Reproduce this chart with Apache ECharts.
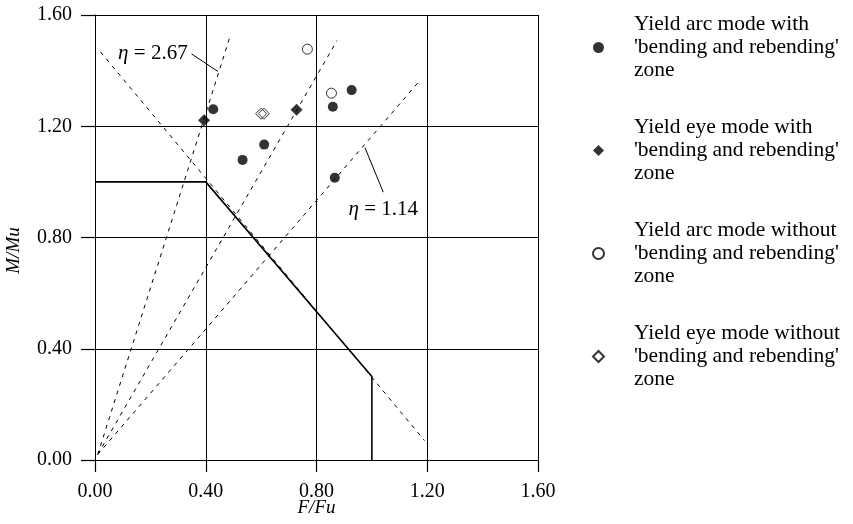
<!DOCTYPE html>
<html>
<head>
<meta charset="utf-8">
<script src="https://cdn.jsdelivr.net/npm/echarts@6/dist/echarts.min.js"></script>
<style>
  html, body { margin: 0; padding: 0; background: #fff; }
  #main { width: 853px; height: 524px; }
</style>
</head>
<body>
<div id="main"></div>
<script>
  // F/Fu , M/Mu
  var arcWith = [[0.427, 1.261], [0.611, 1.134], [0.533, 1.079], [0.927, 1.330], [0.859, 1.270], [0.866, 1.015]];
  var eyeWith = [[0.394, 1.222], [0.728, 1.259]];
  var arcWithout = [[0.767, 1.477], [0.854, 1.319]];
  var eyeWithout = [[0.600, 1.245], [0.610, 1.245]];

  var boundary = [[0, 1.0], [0.4, 1.0], [1.0, 0.3], [1.0, 0]];
  var boundaryExt = [[0.02, 1.467], [1.19, 0.07]];
  var eta267 = [[0.01, 0.02], [0.49, 1.53]];
  var etaMid = [[0.01, 0.02], [0.874, 1.508]];
  var eta114 = [[0.01, 0.02], [1.166, 1.356]];
  var leader267 = [[0.349, 1.46], [0.444, 1.397]];
  var leader114 = [[0.975, 1.123], [1.041, 0.963]];

  var legendNames = {
    'arcWith': ['Yield arc mode with', "'bending and rebending'", 'zone'],
    'eyeWith': ['Yield eye mode with', "'bending and rebending'", 'zone'],
    'arcWithout': ['Yield arc mode without', "'bending and rebending'", 'zone'],
    'eyeWithout': ['Yield eye mode without', "'bending and rebending'", 'zone']
  };

  var serif = 'Liberation Serif';
  var myChart = echarts.init(document.getElementById('main'));

  function dashed(data) {
    return {
      type: 'line', data: data, symbol: 'none', silent: true,
      lineStyle: { color: '#000', width: 1, type: [4, 5] }
    };
  }

  function etaLabel(text, pos, dist) {
    return {
      show: true, position: pos, distance: dist,
      formatter: '{i|η} = ' + text,
      fontFamily: serif, fontSize: 21, color: '#000',
      rich: { i: { fontFamily: serif, fontStyle: 'italic', fontSize: 21, color: '#000' } }
    };
  }

  var tickStyle = { color: '#000', width: 1.2 };

  var option = {
    backgroundColor: '#fff',
    animation: false,
    textStyle: { fontFamily: serif, color: '#000' },
    grid: { left: 95, right: 315, top: 15, bottom: 64, containLabel: false, outerBoundsMode: 'none' },
    legend: {
      orient: 'vertical',
      left: 587,
      top: 8,
      itemGap: 34,
      itemWidth: 11,
      itemHeight: 11,
      data: ['arcWith', 'eyeWith', 'arcWithout', 'eyeWithout'],
      formatter: function (name) { return legendNames[name].join('\n'); },
      textStyle: {
        fontFamily: serif, fontSize: 21.5, color: '#000', lineHeight: 23,
        padding: [0, 0, 0, 25]
      }
    },
    xAxis: {
      type: 'value', min: 0, max: 1.6, interval: 0.4,
      position: 'bottom',
      name: 'F/Fu', nameLocation: 'middle', nameGap: 38, nameMoveOverlap: false,
      nameTextStyle: { fontFamily: serif, fontStyle: 'italic', fontSize: 19, color: '#000' },
      axisLine: { show: true, onZero: false, lineStyle: { color: '#000', width: 1 } },
      axisTick: { show: true, inside: false, length: 12, interval: 0, lineStyle: tickStyle },
      axisLabel: { fontFamily: serif, fontSize: 20, color: '#000', margin: 22,
        formatter: function (v) { return v.toFixed(2); } },
      splitLine: { show: true, lineStyle: { color: '#000', width: 1 } }
    },
    yAxis: {
      type: 'value', min: 0, max: 1.6, interval: 0.4,
      position: 'left',
      name: 'M/Mu', nameLocation: 'middle', nameGap: 72, nameRotate: 90, nameMoveOverlap: false,
      nameTextStyle: { fontFamily: serif, fontStyle: 'italic', fontSize: 19, color: '#000',
        padding: [0, 26, 0, 0] },
      axisLine: { show: true, onZero: false, lineStyle: { color: '#000', width: 1 } },
      axisTick: { show: true, inside: false, length: 14, interval: 0, lineStyle: tickStyle },
      axisLabel: { fontFamily: serif, fontSize: 20, color: '#000', margin: 23,
        formatter: function (v) { return v.toFixed(2); } },
      splitLine: { show: true, lineStyle: { color: '#000', width: 1 } }
    },
    series: [
      dashed(boundaryExt),
      dashed(eta267),
      dashed(etaMid),
      dashed(eta114),
      {
        type: 'line', data: boundary, symbol: 'none', silent: true,
        lineStyle: { color: '#000', width: 1.6 }
      },
      {
        type: 'line', data: leader267, silent: true, symbol: 'none',
        lineStyle: { color: '#000', width: 1 },
        markPoint: {
          symbol: 'circle', symbolSize: 0,
          data: [{ coord: leader267[0] }],
          label: etaLabel('2.67', 'left', 4)
        }
      },
      {
        type: 'line', data: leader114, silent: true, symbol: 'none',
        lineStyle: { color: '#000', width: 1 },
        markPoint: {
          symbol: 'circle', symbolSize: 0,
          data: [{ coord: leader114[1] }],
          label: etaLabel('1.14', 'bottom', 7)
        }
      },
      {
        name: 'arcWith', type: 'scatter', data: arcWith,
        symbol: 'circle', symbolSize: 10,
        itemStyle: { color: '#000' }
      },
      {
        name: 'eyeWith', type: 'scatter', data: eyeWith,
        symbol: 'diamond', symbolSize: 12,
        itemStyle: { color: '#000' }
      },
      {
        name: 'arcWithout', type: 'scatter', data: arcWithout,
        symbol: 'circle', symbolSize: 10,
        itemStyle: { color: '#fff', borderColor: '#000', borderWidth: 1 }
      },
      {
        name: 'eyeWithout', type: 'scatter', data: eyeWithout,
        symbol: 'diamond', symbolSize: 11,
        itemStyle: { color: 'rgba(255,255,255,0)', borderColor: '#000', borderWidth: 1 }
      }
    ]
  };

  option && myChart.setOption(option);
</script>
</body>
</html>
